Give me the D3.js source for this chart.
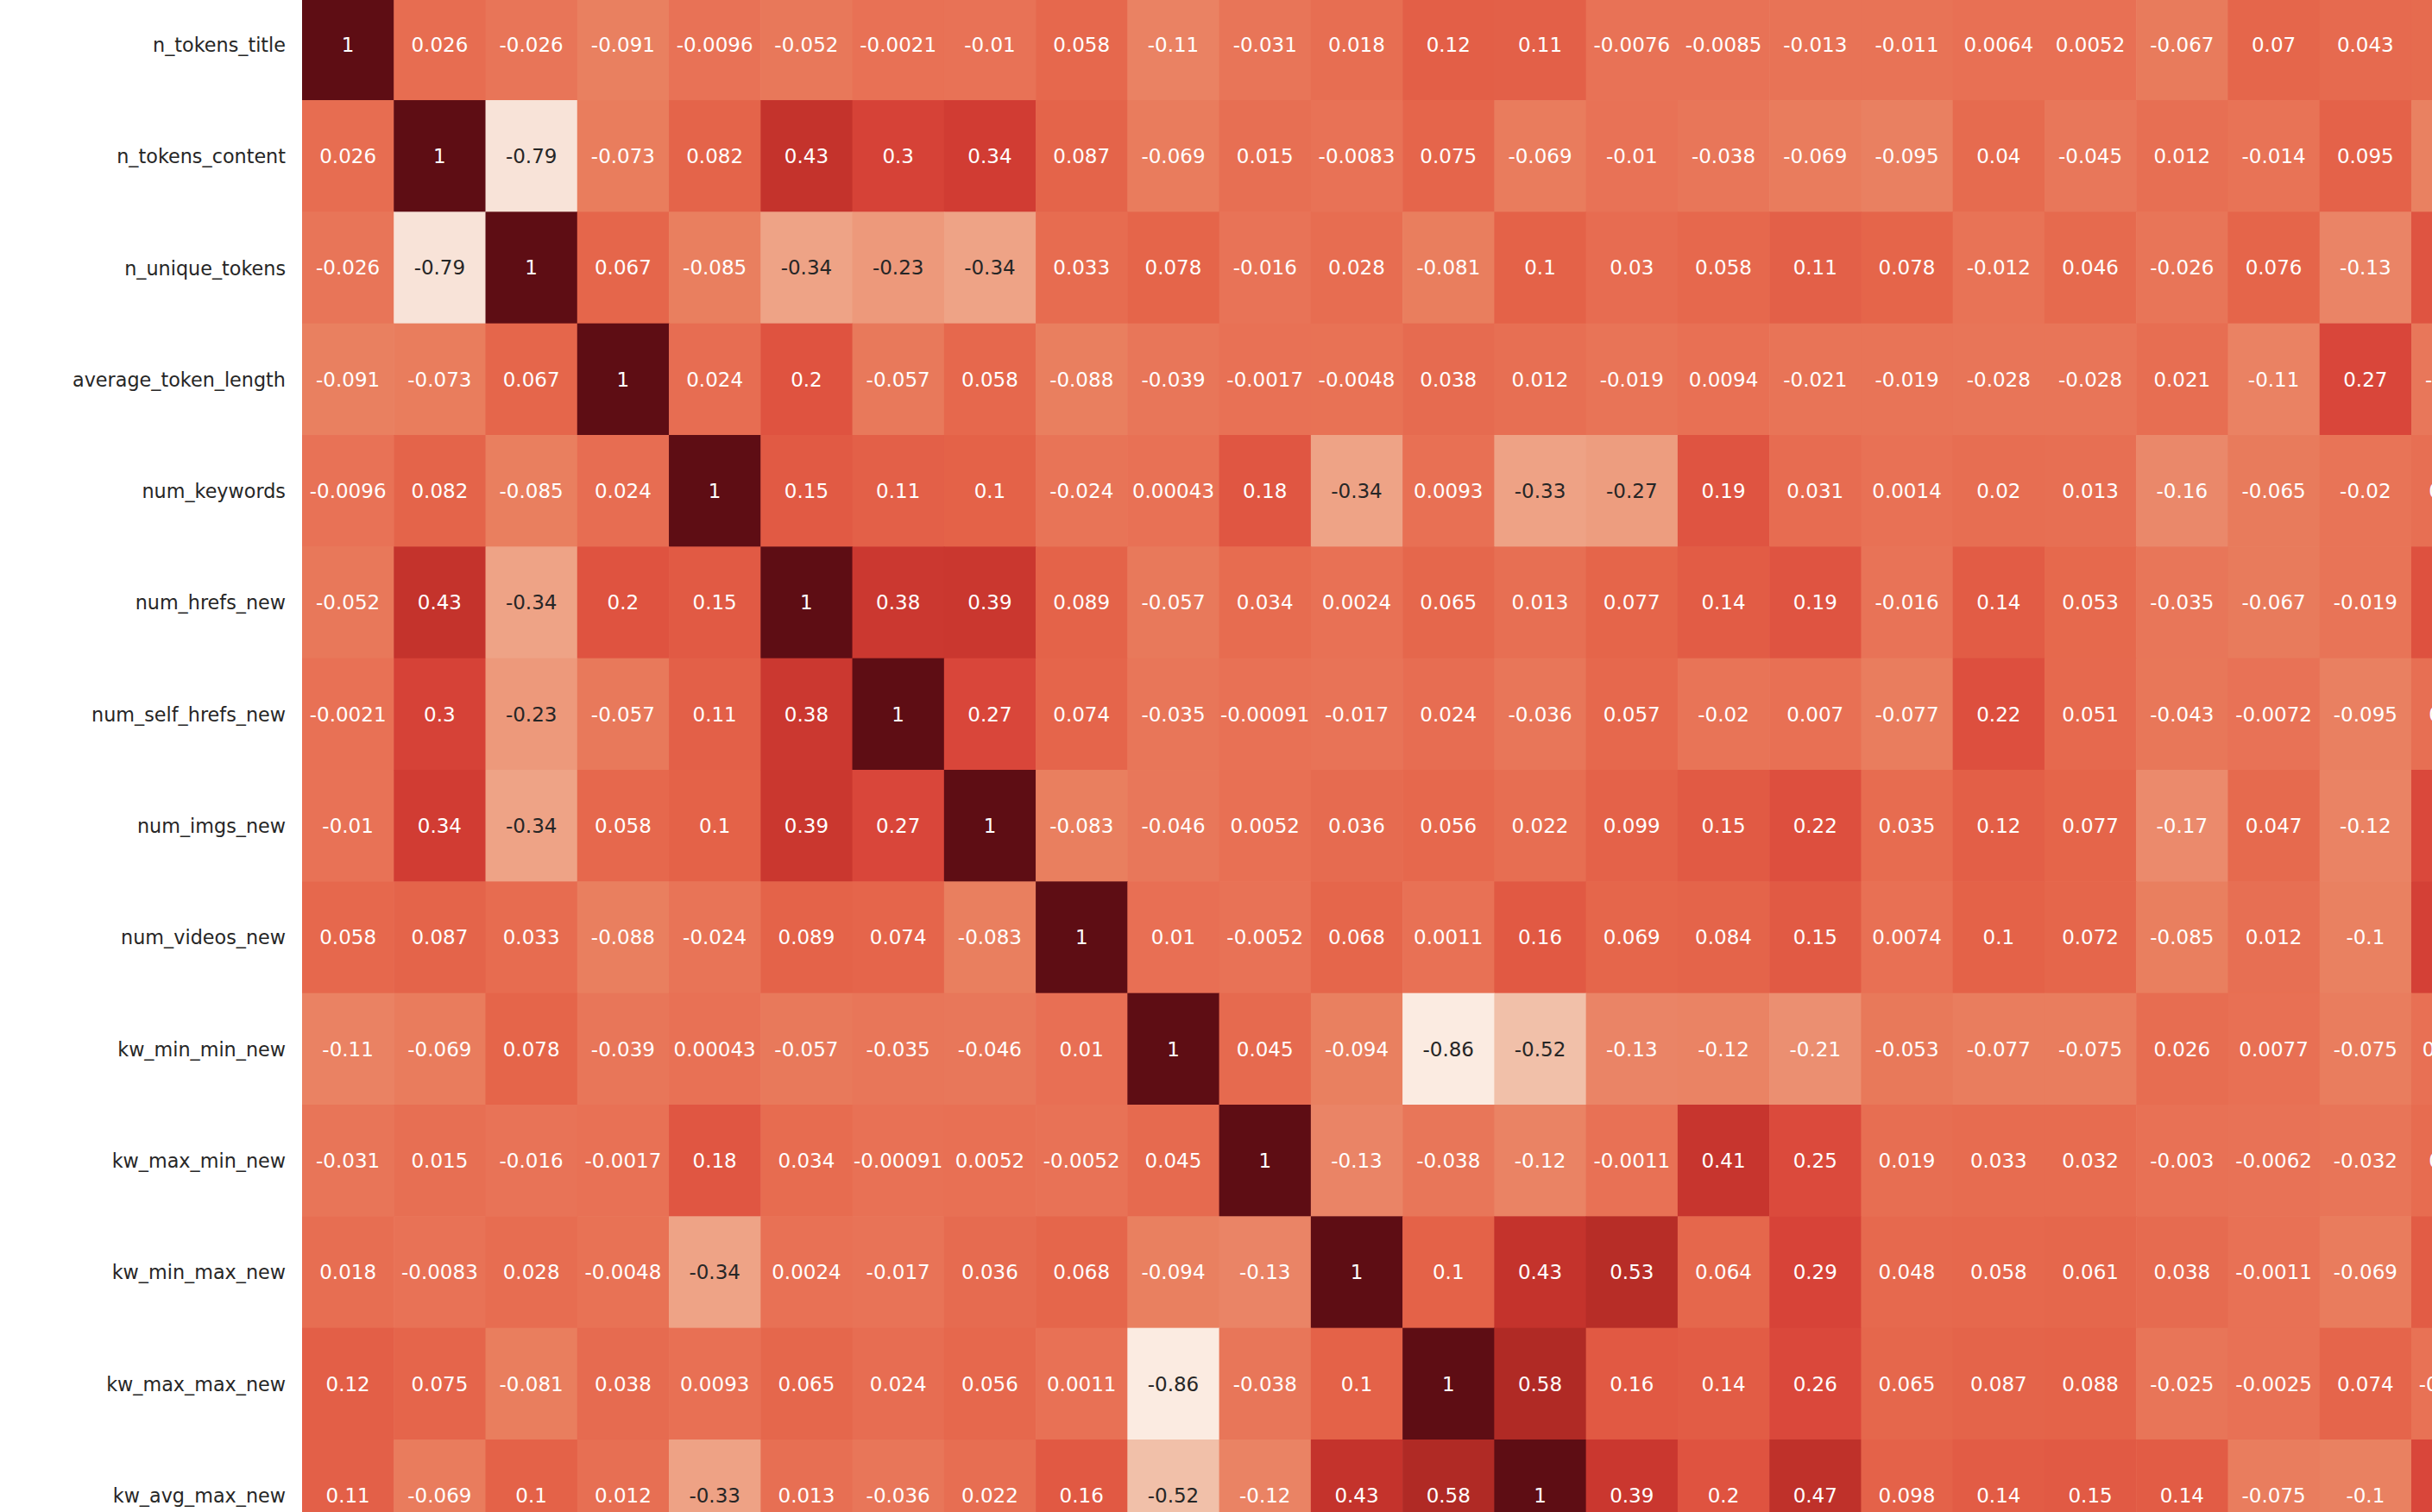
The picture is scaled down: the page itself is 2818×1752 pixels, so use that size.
<!DOCTYPE html>
<html>
<head>
<meta charset="utf-8">
<script src="https://cdn.jsdelivr.net/npm/d3@7"></script>
<style>
  html, body { margin: 0; padding: 0; background: #ffffff; overflow: hidden; }
  svg { display: block; }
</style>
</head>
<body>
<svg id="chart"></svg>
<script>
// ---- data ----
const rowLabels = [
  "n_tokens_title", "n_tokens_content", "n_unique_tokens", "average_token_length",
  "num_keywords", "num_hrefs_new", "num_self_hrefs_new", "num_imgs_new",
  "num_videos_new", "kw_min_min_new", "kw_max_min_new", "kw_min_max_new",
  "kw_max_max_new", "kw_avg_max_new"
];
// columns continue past the visible rows (their labels are below the visible area)
const colLabels = rowLabels.concat([
  "kw_min_avg_new", "kw_max_avg_new", "kw_avg_avg_new", "self_reference_min_shares_new",
  "self_reference_max_shares_new", "self_reference_avg_sharess_new", "LDA_00",
  "LDA_01", "LDA_02", "LDA_03"
]);

const r01 = [1, 0.026, -0.026, -0.091, -0.0096, -0.052, -0.0021, -0.01, 0.058, -0.11, -0.031, 0.018, 0.12, 0.11, -0.0076, -0.0085, -0.013, -0.011, 0.0064, 0.0052, -0.067, 0.07, 0.043, 0.04];
const r02 = [0.026, 1, -0.79, -0.073, 0.082, 0.43, 0.3, 0.34, 0.087, -0.069, 0.015, -0.0083, 0.075, -0.069, -0.01, -0.038, -0.069, -0.095, 0.04, -0.045, 0.012, -0.014, 0.095, -0.1];
const r03 = [-0.026, -0.79, 1, 0.067, -0.085, -0.34, -0.23, -0.34, 0.033, 0.078, -0.016, 0.028, -0.081, 0.1, 0.03, 0.058, 0.11, 0.078, -0.012, 0.046, -0.026, 0.076, -0.13, 0.19];
const r04 = [-0.091, -0.073, 0.067, 1, 0.024, 0.2, -0.057, 0.058, -0.088, -0.039, -0.0017, -0.0048, 0.038, 0.012, -0.019, 0.0094, -0.021, -0.019, -0.028, -0.028, 0.021, -0.11, 0.27, -0.045];
const r05 = [-0.0096, 0.082, -0.085, 0.024, 1, 0.15, 0.11, 0.1, -0.024, 0.00043, 0.18, -0.34, 0.0093, -0.33, -0.27, 0.19, 0.031, 0.0014, 0.02, 0.013, -0.16, -0.065, -0.02, 0.012];
const r06 = [-0.052, 0.43, -0.34, 0.2, 0.15, 1, 0.38, 0.39, 0.089, -0.057, 0.034, 0.0024, 0.065, 0.013, 0.077, 0.14, 0.19, -0.016, 0.14, 0.053, -0.035, -0.067, -0.019, 0.21];
const r07 = [-0.0021, 0.3, -0.23, -0.057, 0.11, 0.38, 1, 0.27, 0.074, -0.035, -0.00091, -0.017, 0.024, -0.036, 0.057, -0.02, 0.007, -0.077, 0.22, 0.051, -0.043, -0.0072, -0.095, 0.015];
const r08 = [-0.01, 0.34, -0.34, 0.058, 0.1, 0.39, 0.27, 1, -0.083, -0.046, 0.0052, 0.036, 0.056, 0.022, 0.099, 0.15, 0.22, 0.035, 0.12, 0.077, -0.17, 0.047, -0.12, 0.26];
const r09 = [0.058, 0.087, 0.033, -0.088, -0.024, 0.089, 0.074, -0.083, 1, 0.01, -0.0052, 0.068, 0.0011, 0.16, 0.069, 0.084, 0.15, 0.0074, 0.1, 0.072, -0.085, 0.012, -0.1, 0.31];
const r10 = [-0.11, -0.069, 0.078, -0.039, 0.00043, -0.057, -0.035, -0.046, 0.01, 1, 0.045, -0.094, -0.86, -0.52, -0.13, -0.12, -0.21, -0.053, -0.077, -0.075, 0.026, 0.0077, -0.075, 0.0064];
const r11 = [-0.031, 0.015, -0.016, -0.0017, 0.18, 0.034, -0.00091, 0.0052, -0.0052, 0.045, 1, -0.13, -0.038, -0.12, -0.0011, 0.41, 0.25, 0.019, 0.033, 0.032, -0.003, -0.0062, -0.032, 0.035];
const r12 = [0.018, -0.0083, 0.028, -0.0048, -0.34, 0.0024, -0.017, 0.036, 0.068, -0.094, -0.13, 1, 0.1, 0.43, 0.53, 0.064, 0.29, 0.048, 0.058, 0.061, 0.038, -0.0011, -0.069, 0.14];
const r13 = [0.12, 0.075, -0.081, 0.038, 0.0093, 0.065, 0.024, 0.056, 0.0011, -0.86, -0.038, 0.1, 1, 0.58, 0.16, 0.14, 0.26, 0.065, 0.087, 0.088, -0.025, -0.0025, 0.074, -0.0036];
const r14 = [0.11, -0.069, 0.1, 0.012, -0.33, 0.013, -0.036, 0.022, 0.16, -0.52, -0.12, 0.43, 0.58, 1, 0.39, 0.2, 0.47, 0.098, 0.14, 0.15, 0.14, -0.075, -0.1, 0.27];
const matrixRows = [r01, r02, r03, r04, r05, r06, r07, r08, r09, r10, r11, r12, r13, r14];

// colour stops (value -> colour)
const colorStops  = [-0.86, -0.79, -0.52, -0.34, -0.23, -0.21, -0.13, -0.085, -0.05, 0, 0.07, 0.2, 0.27, 0.34, 0.43, 0.58, 1];
const colorValues = ["#fbebe1", "#f8e3d8", "#f1c0a9", "#eea386", "#ed997b", "#eb8f71", "#ea8466", "#e97f5f", "#e8785a", "#e87155", "#e5664b", "#df5340", "#d9463a", "#d13c33", "#c4332c", "#b02a25", "#5e0d14"];
const darkTextBelow = -0.22;

// ---- layout ----
const W = 2818, H = 1752;
const plotLeft = 350, plotTop = -13.3;
const cellW = 106.26, cellH = 129.33;

const svg = d3.select("#chart").attr("width", W).attr("height", H);
svg.append("rect").attr("width", W).attr("height", H).attr("fill", "#ffffff");

const x = d3.scaleBand().domain(colLabels).range([plotLeft, plotLeft + cellW * colLabels.length]).padding(0);
const y = d3.scaleBand().domain(rowLabels).range([plotTop, plotTop + cellH * rowLabels.length]).padding(0);
const color = d3.scaleLinear().domain(colorStops).range(colorValues).interpolate(d3.interpolateRgb).clamp(true);

const cells = [];
matrixRows.forEach((row, i) => {
  row.forEach((v, j) => cells.push({ r: rowLabels[i], c: colLabels[j], v }));
});

// seaborn-like ".2g" labels with an ASCII hyphen as the minus sign
const fmt = v => (v === 1 ? "1" : d3.format(".2~g")(v).replace("\u2212", "-"));

const g = svg.append("g");
g.selectAll("rect.cell").data(cells).enter().append("rect")
  .attr("class", "cell")
  .attr("x", d => x(d.c))
  .attr("y", d => y(d.r))
  .attr("width", x.bandwidth() + 0.6)
  .attr("height", y.bandwidth() + 0.6)
  .attr("fill", d => color(d.v));

g.selectAll("text.annot").data(cells).enter().append("text")
  .attr("class", "annot")
  .attr("x", d => x(d.c) + x.bandwidth() / 2)
  .attr("y", d => y(d.r) + y.bandwidth() / 2)
  .attr("dy", "0.36em")
  .attr("text-anchor", "middle")
  .attr("font-family", "'DejaVu Sans', sans-serif")
  .attr("font-size", 23)
  .attr("fill", d => d.v < darkTextBelow ? "#262626" : "#ffffff")
  .text(d => fmt(d.v));

// y axis labels (no tick marks)
const yAxis = d3.axisLeft(y).tickSize(0).tickPadding(19);
const ya = svg.append("g").attr("transform", `translate(${plotLeft},0)`).call(yAxis);
ya.select(".domain").remove();
ya.selectAll("text")
  .attr("font-family", "'DejaVu Sans', sans-serif")
  .attr("font-size", 22.3)
  .attr("fill", "#262626")
  .attr("dy", "0.38em");
</script>
</body>
</html>
